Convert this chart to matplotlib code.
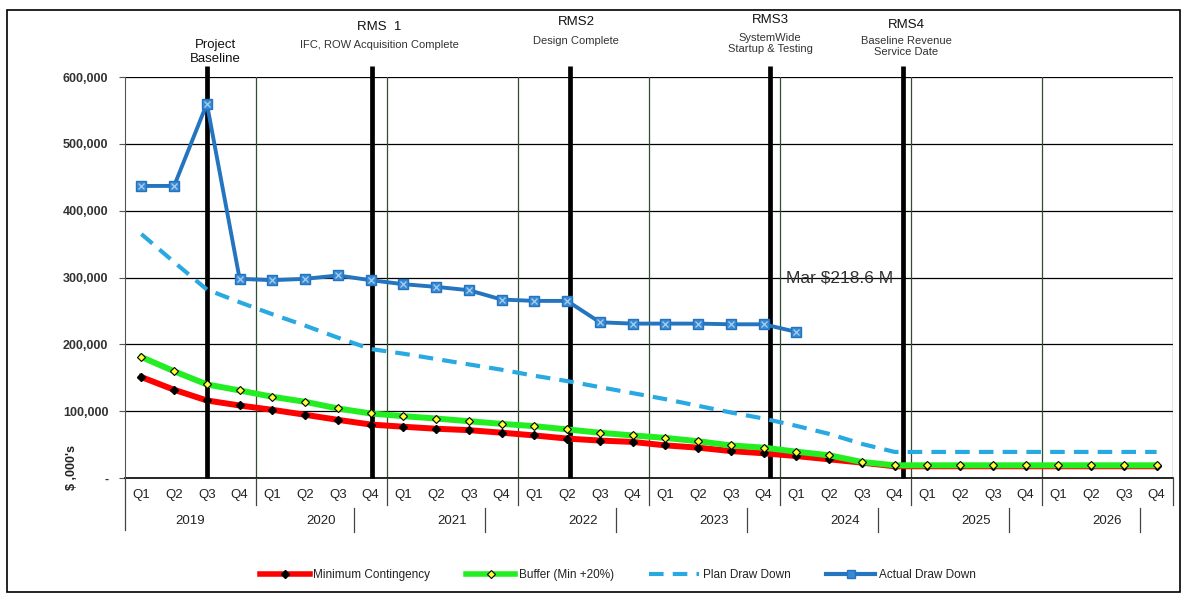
import numpy as np
import matplotlib
matplotlib.use("Agg")
import matplotlib.pyplot as plt
from matplotlib.ticker import FuncFormatter
from matplotlib.lines import Line2D
from matplotlib.patches import Rectangle
import matplotlib.transforms as mtransforms

plt.rcParams['font.family'] = ['Liberation Sans', 'DejaVu Sans']

years = ['2019', '2020', '2021', '2022', '2023', '2024', '2025', '2026']
quarters = ['Q1', 'Q2', 'Q3', 'Q4'] * len(years)

min_contingency = [151000, 132000, 116000, 108500, 102000, 94600, 87000, 80000,
                   76700, 73700, 71600, 67800, 63700, 59000, 56000, 54000,
                   48800, 45400, 40300, 37000, 32800, 27900, 23000, 17500,
                   17500, 17500, 17500, 17500, 17500, 17500, 17500, 17500]
buffer_min20 = [181000, 159700, 140000, 131000, 121500, 114000, 104000, 96600,
                92500, 89000, 85000, 81000, 77600, 72700, 67700, 63700,
                60000, 55000, 48800, 45400, 39400, 34000, 24000, 19000,
                19000, 19000, 19000, 19000, 19000, 19000, 19000, 19000]
plan_draw = [365000, 323000, 282000, 263000, 245000, 228000, 210000, 193000,
             186000, 178000, 170000, 162000, 153000, 145000, 136000, 127000,
             118000, 108000, 98000, 89000, 78000, 66000, 51000, 39000,
             39000, 39000, 39000, 39000, 39000, 39000, 39000, 39000]
actual_draw = [437000, 437000, 560000, 298000, 296000, 298000, 303000, 296000,
               290000, 286000, 281000, 267000, 265000, 265000, 233000, 231000,
               231000, 231000, 230000, 230000, 218600]

milestone_pos = [2.0, 7.05, 13.1, 19.2, 23.27]
milestone_titles = [("Project\nBaseline", ""), ("RMS  1", "IFC, ROW Acquisition Complete"),
                    ("RMS2", "Design Complete"), ("RMS3", "SystemWide\nStartup & Testing"),
                    ("RMS4", "Baseline Revenue\nService Date")]

W, H = 1185, 594
fig = plt.figure(figsize=(W / 100, H / 100), dpi=100)
ax = fig.add_axes([125 / W, 1 - 478 / H, 1048 / W, 401 / H])

x = np.arange(len(quarters))
ax.set_xlim(-0.5, len(quarters) - 0.5)
ax.set_ylim(0, 600000)

# grid
for yv in range(100000, 600001, 100000):
    ax.axhline(yv, color='black', lw=0.9, zorder=1)
for i in range(1, len(years)):
    ax.axvline(4 * i - 0.5, color='#2f4f2f', lw=0.9, zorder=1)
ax.axvline(len(quarters) - 0.5, color='#2f4f2f', lw=0.9, zorder=1)

# milestone bars
for p in milestone_pos:
    ax.plot([p, p], [0, 617000], color='black', lw=3.4, zorder=3,
            clip_on=False, solid_capstyle='butt')

ax.plot(x, plan_draw, color='#29a9e1', lw=3, dashes=(3.5, 2.2), zorder=4)
ax.plot(x, min_contingency, color='#ff0000', lw=4.3, marker='D', ms=4.5,
        mfc='black', mec='black', zorder=5)
ax.plot(x, buffer_min20, color='#22ee22', lw=4.3, marker='D', ms=4.5,
        mfc='#ffff33', mec='black', mew=0.8, zorder=6)
xa = x[:len(actual_draw)]
ax.plot(xa, actual_draw, color='#2474bf', lw=2.8, marker='s', ms=7.5,
        mfc='#3a8ad3', mec='#2474bf', zorder=7)
ax.plot(xa, actual_draw, ls='none', marker='x', ms=4.5, mec='#a9d1f2',
        mew=0.9, zorder=8)

ax.text(20 - 0.33, 300000, "Mar $218.6 M", fontsize=12.5, color='#303030',
        va='center', ha='left', zorder=9)

# axes styling
for s in ['top', 'right', 'bottom']:
    ax.spines[s].set_visible(False)
ax.spines['left'].set_color('#555555')
ax.axhline(0, color='black', lw=1.2, zorder=2, clip_on=False)
ax.set_yticks(range(0, 600001, 100000))
ax.yaxis.set_major_formatter(FuncFormatter(lambda v, p: '-' if v == 0 else f'{v:,.0f}'))
ax.tick_params(axis='y', length=4, width=0.8, color='#555555', labelsize=9,
               labelcolor='#333333', pad=8)
for lbl in ax.get_yticklabels():
    lbl.set_fontweight('bold')
ax.set_xticks([])

trans = mtransforms.blended_transform_factory(ax.transData, ax.transAxes)
for i, q in enumerate(quarters):
    ax.text(i, -0.042, q, transform=trans, ha='center', va='center',
            fontsize=9.5, color='#222222')
for j, yr in enumerate(years):
    ax.text(4 * j + 1.5, -0.107, yr, transform=trans, ha='center', va='center',
            fontsize=9.5, color='#222222')
# category separators
ax.plot([-0.5, -0.5], [0, -0.13], transform=trans, color='#444444', lw=0.9, clip_on=False)
for i in range(1, len(years) + 1):
    ax.plot([4 * i - 0.5, 4 * i - 0.5], [0, -0.067], transform=trans,
            color='#444444', lw=0.9, clip_on=False)
for i in range(1, len(years)):
    ax.plot([4 * i + 2.5, 4 * i + 2.5], [-0.075, -0.135], transform=trans,
            color='#444444', lw=0.9, clip_on=False)

fig.text(72 / W, 1 - 468 / H, "$ ,000's", rotation=90, ha='center', va='center',
         fontsize=9, fontweight='bold', color='#222222')

# milestone titles (figure pixel positions)
title_pos = [(215, 45, 60), (379, 27, 44), (576, 22, 40), (770, 20, 37), (906, 25, 40)]
for (t1, t2), (px, y1, y2) in zip(milestone_titles, title_pos):
    if t2:
        fig.text(px / W, 1 - y1 / H, t1, ha='center', va='center', fontsize=9.5, color='#111111')
        fig.text(px / W, 1 - (y2 - 4) / H, t2, ha='center', va='top', fontsize=8,
                 color='#333333', linespacing=1.1)
    else:
        fig.text(px / W, 1 - 52 / H, t1, ha='center', va='center', fontsize=9.5,
                 color='#111111', linespacing=1.15)

# legend
handles = [
    Line2D([], [], color='#ff0000', lw=4, marker='D', ms=4.5, mfc='black', mec='black'),
    Line2D([], [], color='#22ee22', lw=4, marker='D', ms=4.5, mfc='#ffff33', mec='black', mew=0.8),
    Line2D([], [], color='#29a9e1', lw=3, dashes=(3.5, 2.2)),
    Line2D([], [], color='#2474bf', lw=3, marker='s', ms=6, mfc='#3a8ad3', mec='#2474bf'),
]
labels = ['Minimum Contingency', 'Buffer (Min +20%)', 'Plan Draw Down', 'Actual Draw Down']
fig.legend(handles, labels, loc='center', bbox_to_anchor=(618 / W, 1 - 575 / H),
           ncol=4, frameon=False, fontsize=8.5, handlelength=4.2, handletextpad=0.3,
           columnspacing=3.0, labelcolor='#222222')

fig.patches.append(Rectangle((7 / W, 2 / H), 1173 / W, 582 / H, transform=fig.transFigure,
                             fill=False, ec='black', lw=1.2))

fig.savefig('out.png', dpi=100)
